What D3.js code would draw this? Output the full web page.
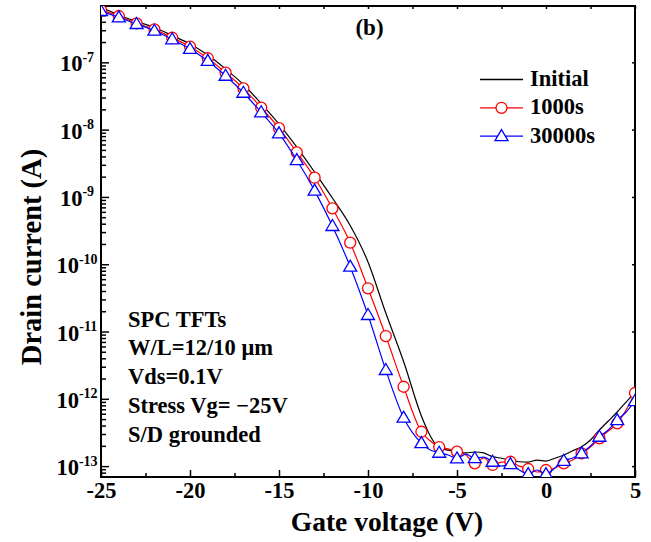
<!DOCTYPE html>
<html>
<head>
<meta charset="utf-8">
<script src="https://cdn.jsdelivr.net/npm/d3@7"></script>
<style>
  body { margin: 0; background: #fff; }
  svg text { font-family: "Liberation Serif", "Times New Roman", serif; font-weight: bold; }
</style>
</head>
<body>
<div id="chart"></div>
<script>
// Gate voltage (V): 1 V steps in the subthreshold part, 0.5 V steps near the floor
const voltage = [-25, -24, -23, -22, -21, -20, -19, -18, -17, -16, -15, -14, -13, -12, -11, -10, -9, -8, -7,
    -6.5, -6, -5.5, -5, -4.5, -4, -3.5, -3, -2.5, -2, -1.5, -1, -0.5, 0, 0.5, 1, 1.5, 2, 2.5, 3, 3.5, 4, 4.5, 5];

// Drain current (A)
const initial = [6.64e-7, 5.05e-7, 4.04e-7, 3.29e-7, 2.50e-7, 1.87e-7, 1.28e-7, 7.95e-8, 4.68e-8, 2.44e-8,
    1.21e-8, 5.51e-9, 2.34e-9, 9.64e-10, 3.76e-10, 1.08e-10, 1.88e-11, 3.58e-12, 5.55e-13,
    2.80e-13, 1.86e-13, 1.73e-13, 1.62e-13, 1.57e-13, 1.62e-13, 1.57e-13, 1.38e-13, 1.31e-13, 1.23e-13,
    1.16e-13, 1.15e-13, 1.23e-13, 1.19e-13, 1.31e-13, 1.46e-13, 1.69e-13, 1.94e-13, 2.44e-13, 3.44e-13,
    4.68e-13, 6.37e-13, 8.95e-13, 1.26e-12];
const stress1000 = [5.98e-7, 4.88e-7, 3.80e-7, 3.09e-7, 2.32e-7, 1.71e-7, 1.15e-7, 7.01e-8, 4.11e-8, 2.12e-8,
    1.05e-8, 4.60e-9, 1.93e-9, 6.77e-10, 2.09e-10, 4.39e-11, 8.57e-12, 1.51e-12, 3.24e-13,
    2.36e-13, 1.92e-13, 1.80e-13, 1.64e-13, 1.46e-13, 1.10e-13, 1.32e-13, 1.04e-13, 1.15e-13, 1.16e-13,
    1.00e-13, 9.06e-14, 8.17e-14, 8.75e-14, 9.37e-14, 1.10e-13, 1.23e-13, 1.55e-13, 1.92e-13, 2.59e-13,
    3.32e-13, 4.33e-13, 6.82e-13, 1.22e-12];
const stress30000 = [5.79e-7, 4.66e-7, 3.71e-7, 2.95e-7, 2.20e-7, 1.58e-7, 1.05e-7, 6.32e-8, 3.53e-8, 1.81e-8,
    8.81e-9, 3.53e-9, 1.24e-9, 3.70e-10, 9.19e-11, 1.76e-11, 2.68e-12, 5.24e-13, 2.20e-13,
    1.73e-13, 1.58e-13, 1.46e-13, 1.30e-13, 1.51e-13, 1.31e-13, 1.36e-13, 1.16e-13, 1.00e-13, 1.07e-13,
    8.75e-14, 7.62e-14, 8.75e-14, 7.62e-14, 9.37e-14, 1.20e-13, 1.32e-13, 1.55e-13, 1.99e-13, 2.73e-13,
    3.44e-13, 4.81e-13, 6.37e-13, 9.27e-13];

const xTicks = [-25, -20, -15, -10, -5, 0, 5];
const yExponents = [-13, -12, -11, -10, -9, -8, -7];
const legendNames = ["Initial", "1000s", "30000s"];
const notes = ["SPC TFTs", "W/L=12/10 \u03bcm", "Vds=0.1V", "Stress Vg= \u221225V", "S/D grounded"];

// Graph dimension
const margin = { top: 6, right: 16, bottom: 65, left: 101 },
    width = 651 - margin.left - margin.right,
    height = 542 - margin.top - margin.bottom;

const svg = d3.select("#chart")
    .append("svg")
    .attr("width", width + margin.left + margin.right)
    .attr("height", height + margin.top + margin.bottom);

const g = svg.append("g")
    .attr("transform", `translate(${margin.left},${margin.top})`);

const x = d3.scaleLinear().domain([-25, 5]).range([0, width]);
const y = d3.scaleLog().domain([6.89e-14, 6.87e-7]).range([height, 0]);

// minor tick positions
const xMinor = d3.range(-25, 5.01, 2.5);
const yMinor = [];
for (let e = -14; e <= -7; e++) {
    for (let m = 2; m <= 9; m++) {
        const v = m * Math.pow(10, e);
        if (v > y.domain()[0] && v < y.domain()[1]) yMinor.push(v);
    }
}
const yMajor = yExponents.map(e => Math.pow(10, e));

function styleAxis(sel) {
    sel.select(".domain").remove();
    sel.selectAll("line").attr("stroke", "#000").attr("stroke-width", 1.5);
}

// bottom axis
const xAxis = g.append("g")
    .attr("transform", `translate(0,${height})`)
    .call(d3.axisBottom(x).tickValues(xTicks).tickFormat(d => String(d)).tickSize(-7).tickPadding(5).tickSizeOuter(0));
styleAxis(xAxis);
xAxis.selectAll("text").attr("font-size", 22.5).attr("fill", "#000")
    .style("font-family", '"Liberation Serif", serif').style("font-weight", "bold");
g.append("g")
    .attr("transform", `translate(0,${height})`)
    .call(d3.axisBottom(x).tickValues(xMinor.filter(v => xTicks.indexOf(v) < 0)).tickFormat("").tickSize(-4).tickSizeOuter(0))
    .call(styleAxis);

// top axis
g.append("g")
    .call(d3.axisTop(x).tickValues(xMinor).tickFormat("").tickSize(-3).tickSizeOuter(0))
    .call(styleAxis);

// left axis
const yAxis = g.append("g")
    .call(d3.axisLeft(y).tickValues(yMajor).tickSize(-8).tickSizeOuter(0));
styleAxis(yAxis);
yAxis.selectAll("text").each(function (d) {
    const t = d3.select(this);
    const e = Math.round(Math.log10(d));
    t.text(null)
        .attr("x", -24)
        .attr("dy", "0.38em")
        .attr("text-anchor", "middle")
        .attr("font-size", 22.5)
        .attr("fill", "#000")
        .style("font-family", '"Liberation Serif", serif')
        .style("font-weight", "bold");
    t.append("tspan").text("10");
    t.append("tspan").attr("dy", -9.5).attr("font-size", 14).text(String(e));
});
g.append("g")
    .call(d3.axisLeft(y).tickValues(yMinor).tickFormat("").tickSize(-5).tickSizeOuter(0))
    .call(styleAxis);

// right axis
g.append("g")
    .attr("transform", `translate(${width},0)`)
    .call(d3.axisRight(y).tickValues(yMajor).tickFormat("").tickSize(-3).tickSizeOuter(0))
    .call(styleAxis);

// frame
g.append("rect")
    .attr("width", width)
    .attr("height", height)
    .attr("fill", "none")
    .attr("stroke", "#000")
    .attr("stroke-width", 2);

// axis titles
svg.append("text")
    .attr("x", 387)
    .attr("y", 531)
    .attr("text-anchor", "middle")
    .attr("font-size", 27.5)
    .text("Gate voltage (V)");

svg.append("text")
    .attr("transform", "translate(41,257) rotate(-90)")
    .attr("text-anchor", "middle")
    .attr("font-size", 28.5)
    .text("Drain current (A)");

// clip for curves
svg.append("clipPath").attr("id", "plot-clip")
    .append("rect").attr("width", width).attr("height", height);

const series = [
    { name: legendNames[0], values: initial, color: "#000000", marker: "none" },
    { name: legendNames[1], values: stress1000, color: "#ff0000", marker: "circle" },
    { name: legendNames[2], values: stress30000, color: "#0000ff", marker: "triangle" }
];

const line = d3.line()
    .x(d => x(d[0]))
    .y(d => y(d[1]))
    .curve(d3.curveMonotoneX);

const triPath = "M0,-6.5L6.5,4.5L-6.5,4.5Z";

function drawMarker(sel, s) {
    if (s.marker === "circle") {
        sel.append("circle").attr("r", 5.5);
    } else if (s.marker === "triangle") {
        sel.append("path").attr("d", triPath);
    }
    sel.selectAll("circle, path")
        .attr("fill", "#fff")
        .attr("stroke", s.color)
        .attr("stroke-width", 1.3);
}

const plot = g.append("g").attr("clip-path", "url(#plot-clip)");

series.forEach(function (s) {
    const pts = voltage.map((v, i) => [v, s.values[i]]);
    plot.append("path")
        .datum(pts)
        .attr("fill", "none")
        .attr("stroke", s.color)
        .attr("stroke-width", 1.2)
        .attr("d", line);
    if (s.marker !== "none") {
        plot.selectAll(".m-" + s.marker)
            .data(pts.filter(p => Number.isInteger(p[0])))
            .join("g")
            .attr("class", "m-" + s.marker)
            .attr("transform", p => `translate(${x(p[0])},${y(p[1])})`)
            .each(function () { drawMarker(d3.select(this), s); });
    }
});

// legend
const legend = svg.append("g");
series.forEach(function (s, i) {
    const ly = 79.5 + i * 28.3;
    const row = legend.append("g");
    row.append("line")
        .attr("x1", 480).attr("x2", 523)
        .attr("y1", ly).attr("y2", ly)
        .attr("stroke", s.color)
        .attr("stroke-width", 1.3);
    const mk = row.append("g").attr("transform", `translate(501.5,${ly})`);
    drawMarker(mk, s);
    row.append("text")
        .attr("x", 530)
        .attr("y", ly + 6.5)
        .attr("font-size", 22.5)
        .text(s.name);
});

// panel label
svg.append("text")
    .attr("x", 369.5)
    .attr("y", 35)
    .attr("text-anchor", "middle")
    .attr("font-size", 23)
    .text("(b)");

// device notes
svg.append("g").selectAll("text")
    .data(notes)
    .join("text")
    .attr("x", 128)
    .attr("y", (d, i) => 326.7 + i * 28.7)
    .attr("font-size", 22.5)
    .text(d => d);
</script>
</body>
</html>
